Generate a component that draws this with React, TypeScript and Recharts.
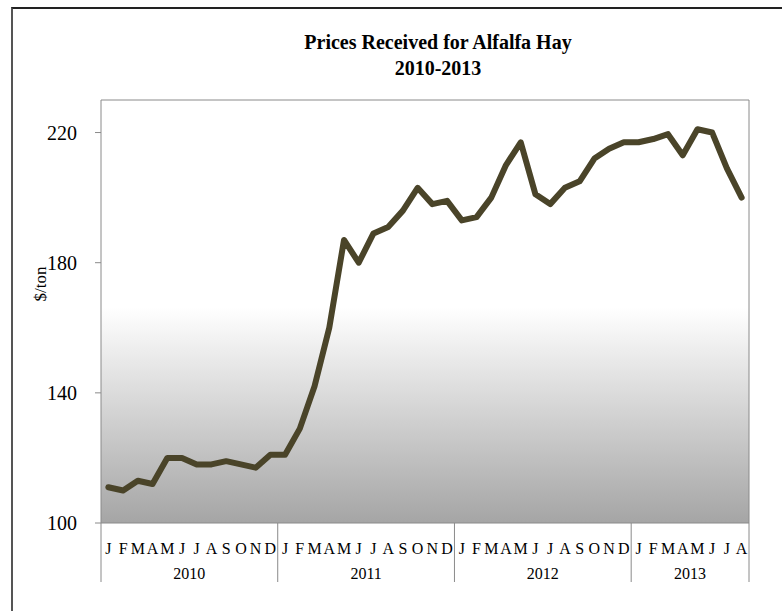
import { LineChart, Line, XAxis, YAxis, CartesianGrid, ReferenceLine } from "recharts";

const monthLetters = ["J", "F", "M", "A", "M", "J", "J", "A", "S", "O", "N", "D"];
const years = [2010, 2011, 2012, 2013];

// $/ton, monthly
const prices2010 = [111, 110, 113, 112, 120, 120, 118, 118, 119, 118, 117, 121];
const prices2011 = [121, 129, 142, 160, 187, 180, 189, 191, 196, 203, 198, 199];
const prices2012 = [193, 194, 200, 210, 217, 201, 198, 203, 205, 212, 215, 217];
const prices2013 = [217, 218, 219.5, 213, 221, 220, 209, 200];

const yTicks = [100, 140, 180, 220];

const series = [prices2010, prices2011, prices2012, prices2013];
const data = series.flatMap((vals, yi) =>
  vals.map((price, mi) => ({
    m: monthLetters[mi],
    mi,
    year: years[yi],
    count: vals.length,
    price,
  }))
);
data.forEach((d, i) => ((d as any).i = i));
const lastIdx = data.length - 1;

const W = 782;
const H = 611;
const MARGIN = { top: 100, right: 33, bottom: 13, left: 0 };
const Y_W = 101;
const PLOT_W = W - MARGIN.left - MARGIN.right - Y_W;
const BAND = PLOT_W / data.length;
const FONT = "'Liberation Serif', 'Times New Roman', serif";
const AXIS = "#8a8a8a";

const MonthTick = (props: any) => {
  const { x, y, payload } = props;
  return (
    <text x={x} y={y} textAnchor="middle" dy="0.71em" fontSize={16} fontFamily={FONT} fill="#000">
      {data[payload.index].m}
    </text>
  );
};

const YearTick = (props: any) => {
  const { x, y, payload } = props;
  const d = data[payload.index];
  const mid = (d.count - 1) / 2;
  const isLast = payload.index === lastIdx;
  return (
    <g>
      {d.mi === 0 && (
        <line x1={x - BAND / 2} x2={x - BAND / 2} y1={y - 35} y2={y + 24} stroke={AXIS} strokeWidth={1} />
      )}
      {isLast && (
        <line x1={x + BAND / 2} x2={x + BAND / 2} y1={y - 35} y2={y + 24} stroke={AXIS} strokeWidth={1} />
      )}
      {d.mi === Math.floor(mid) && (
        <text
          x={x + (mid - Math.floor(mid)) * BAND}
          y={y + 21}
          textAnchor="middle"
          fontSize={16}
          fontFamily={FONT}
          fill="#000"
        >
          {d.year}
        </text>
      )}
    </g>
  );
};

const YLabel = (props: any) => {
  const { viewBox } = props;
  const cx = 40;
  const cy = viewBox.y + 184;
  return (
    <text x={cx} y={cy} transform={`rotate(-90 ${cx} ${cy})`} textAnchor="middle" dominantBaseline="central" fontSize={17} fontFamily={FONT} fill="#000">
      $/ton
    </text>
  );
};

export default function App() {
  return (
    <div style={{ position: "fixed", left: 0, top: 0, width: W, height: H, overflow: "hidden", background: "#fff" }}>
      <div
        style={{
          position: "absolute",
          left: 11,
          top: 7,
          width: 900,
          height: 900,
          borderTop: "2px solid #222",
          borderLeft: "2px solid #555",
        }}
      />
      <div
        style={{
          position: "absolute",
          left: 238,
          top: 29,
          width: 400,
          textAlign: "center",
          fontFamily: FONT,
          fontWeight: "bold",
          fontSize: 20,
          lineHeight: "26px",
          color: "#000",
        }}
      >
        Prices Received for Alfalfa Hay
        <br />
        2010-2013
      </div>
      <div style={{ position: "absolute", left: 0, top: 0 }}>
        <LineChart width={W} height={H} data={data} margin={MARGIN}>
          <defs>
            <linearGradient id="plotBg" x1="0" y1="0" x2="0" y2="1">
              <stop offset="0%" stopColor="#ffffff" />
              <stop offset="49%" stopColor="#ffffff" />
              <stop offset="100%" stopColor="#a5a5a5" />
            </linearGradient>
          </defs>
          <CartesianGrid horizontal={false} vertical={false} fill="url(#plotBg)" stroke="none" />
          <XAxis
            dataKey="i"
            scale="band"
            interval={0}
            tickLine={false}
            tickSize={6}
            tickMargin={14}
            height={35}
            axisLine={{ stroke: AXIS }}
            tick={<MonthTick />}
          />
          <XAxis
            xAxisId="year"
            dataKey="i"
            scale="band"
            interval={0}
            tickLine={false}
            axisLine={false}
            tickSize={0}
            tickMargin={0}
            height={40}
            tick={<YearTick />}
          />
          <YAxis
            width={Y_W}
            domain={[100, 230]}
            ticks={yTicks}
            interval={0}
            tickSize={6}
            tickMargin={18}
            tickLine={{ stroke: AXIS }}
            axisLine={{ stroke: AXIS }}
            tick={{ fontSize: 20, fontFamily: FONT, fill: "#000" }}
            label={<YLabel />}
          />
          <ReferenceLine y={230} stroke={AXIS} />
          <ReferenceLine x={lastIdx} position="end" stroke={AXIS} />
          <Line
            dataKey="price"
            type="linear"
            stroke="#4a4429"
            strokeWidth={6}
            strokeLinejoin="round"
            strokeLinecap="round"
            dot={false}
            isAnimationActive={false}
          />
        </LineChart>
      </div>
    </div>
  );
}
